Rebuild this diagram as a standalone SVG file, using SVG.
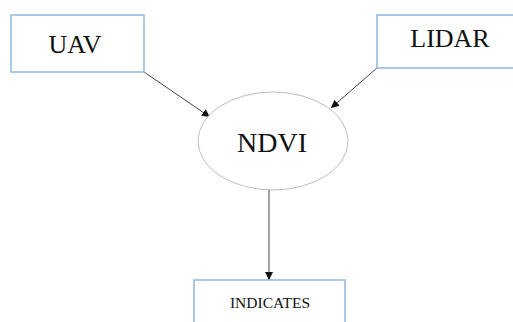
<svg xmlns="http://www.w3.org/2000/svg" width="513" height="322" viewBox="0 0 513 322">
<defs>
<style>
.box{fill:#fff;stroke:#8fb6e0;stroke-width:1.5}
.ell{fill:#fff;stroke:#bdbdbd;stroke-width:1}
.t{font-family:"Liberation Serif",serif;fill:#111;text-anchor:middle}
.c{stroke:#444;stroke-width:1;fill:none;marker-end:url(#ah)}
</style>
<marker id="ah" viewBox="0 0 10 10" refX="10" refY="5" markerWidth="8" markerHeight="8" markerUnits="userSpaceOnUse" orient="auto">
<path d="M0,0 L10,5 L0,10 Z" fill="#111"/>
</marker>
</defs>
<rect width="513" height="322" fill="#fff"/>
<g id="connectors">
<line class="c" x1="144" y1="72" x2="210" y2="117"/>
<line class="c" x1="377" y1="68" x2="331" y2="108"/>
<line class="c" x1="269" y1="190" x2="269" y2="280"/>
</g>
<g id="uav">
<rect class="box" x="11" y="15" width="133" height="57"/>
<text class="t" x="75" y="53" font-size="26">UAV</text>
</g>
<g id="lidar">
<rect class="box" x="377" y="15" width="140" height="53"/>
<text class="t" x="450" y="47" font-size="26">LIDAR</text>
</g>
<g id="ndvi">
<ellipse class="ell" cx="273" cy="141" rx="75" ry="49"/>
<text class="t" x="272" y="152" font-size="28">NDVI</text>
</g>
<g id="indicates">
<rect class="box" x="194" y="280" width="151" height="50"/>
<text class="t" x="270" y="308" font-size="15.5">INDICATES</text>
</g>
</svg>
